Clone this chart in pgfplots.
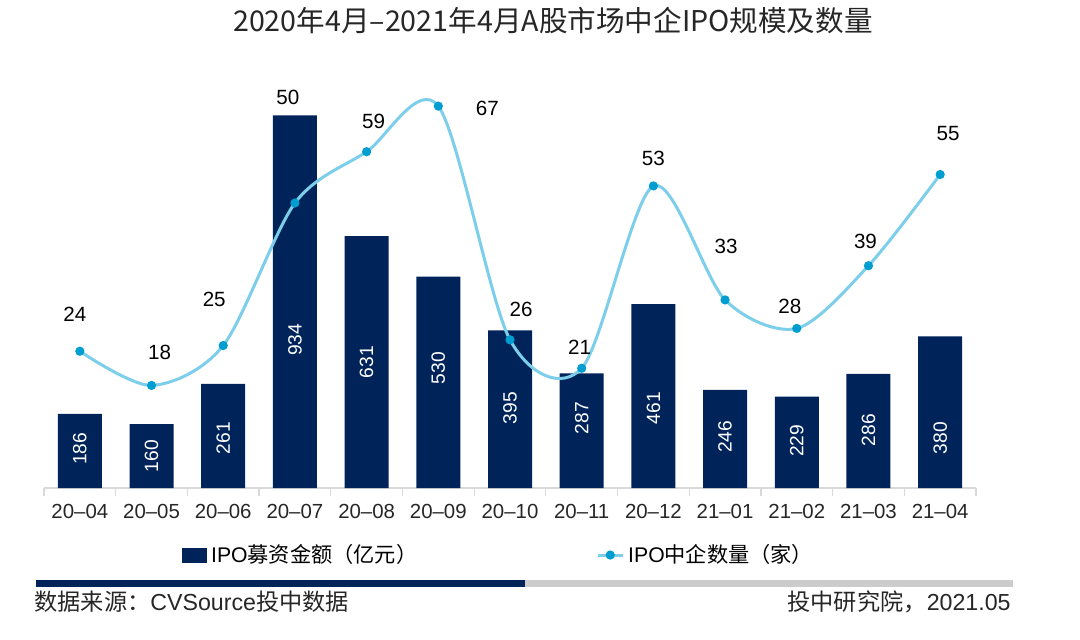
\documentclass[border=0pt]{standalone}
\usepackage{fontspec}
\setmainfont{Liberation Sans}
\newfontfamily\cjk{Noto Sans CJK SC}
\usepackage{pgfplots}
\usepackage{pgfplotstable}
\pgfplotsset{compat=1.18}

\definecolor{navy}{RGB}{0,36,90}
\definecolor{lineblue}{RGB}{125,206,234}
\definecolor{dotblue}{RGB}{0,158,208}
\definecolor{axisgrey}{RGB}{217,217,217}
\definecolor{bargrey}{RGB}{204,204,204}
\definecolor{txt}{RGB}{38,38,38}

% IPO amount (100m yuan); ly = height where the value is written
\pgfplotstableread{
x  amt ly
0  186 98
1  160 80
2  261 125
3  934 371
4  631 315
5  530 300
6  395 200
7  287 175
8  461 200
9  246 128
10 229 118
11 286 145
12 380 125
}\amount

% number of firms; dx/dy = label offset in pt
\pgfplotstableread{
x  n  dx   dy
0  24 -2.5 18.5
1  18 4    16.5
2  25 -4.5 23
3  50 -3.5 53
4  59 3.5  15
5  67 24.5 -1
6  26 5.5  15
7  21 -1   10.5
8  53 0    14
9  33 0.5  27
10 28 -3.5 11
11 39 -1.5 12
12 55 4    20.5
}\firms

\begin{document}
\begin{tikzpicture}[font=\fontsize{10}{12}\selectfont]
\path[use as bounding box] (-22pt,-75.5pt) rectangle (518pt,244pt);

\begin{axis}[
    at={(0,0)}, anchor=south west,
    scale only axis, width=466pt, height=199.5pt,
    xmin=-0.5, xmax=12.5, ymin=0, ymax=1000,
    axis x line*=bottom, axis y line=none,
    x axis line style={draw=axisgrey, line width=0.8pt, -},
    xtick={0,...,12},
    xticklabels={20–04,20–05,20–06,20–07,20–08,20–09,20–10,20–11,20–12,21–01,21–02,21–03,21–04},
    major tick length=0pt,
    minor xtick={-0.5,0.5,...,12.5},
    minor tick length=4pt, tick align=outside,
    minor tick style={draw=axisgrey, line width=0.6pt},
    xticklabel style={text=txt, anchor=center, yshift=-11.75pt,
        font=\fontsize{10.2}{12}\selectfont},
    ytick=\empty,
    clip=false,
]
\addplot[ybar, bar width=22pt, fill=navy, draw=none] table[x=x, y=amt] {\amount};
\addplot[draw=none, mark=none, nodes near coords, point meta=explicit symbolic,
    nodes near coords style={rotate=90, anchor=center, text=white,
        font=\fontsize{9.6}{11}\selectfont}]
    table[x=x, y=ly, meta=amt] {\amount};
\end{axis}

\begin{axis}[
    at={(0,0)}, anchor=south west,
    scale only axis, width=466pt, height=199.5pt,
    xmin=-0.5, xmax=12.5, ymin=0, ymax=70,
    hide axis, clip=false,
    legend columns=2,
    legend style={at={(0.489,-0.168)}, anchor=center, draw=none, fill=none,
        font=\fontsize{10.6}{13}\selectfont,
        /tikz/column 2/.style={column sep=87.5pt}},
]
\addlegendimage{legend image code/.code={\fill[navy] (0pt,-3.5pt) rectangle (12pt,3.5pt);}}
\addlegendentry{IPO{\cjk 募资金额（亿元）}}
\addplot[smooth, color=lineblue, line width=1.5pt,
    mark=*, mark size=1.5pt, mark options={fill=dotblue, draw=dotblue},
    legend image code/.code={
        \draw[lineblue, line width=1.5pt] (0pt,0pt) -- (12.5pt,0pt);
        \fill[dotblue] (6.25pt,0pt) circle (1.5pt);},
    nodes near coords, point meta=explicit symbolic,
    visualization depends on={\thisrow{dx}\as\dx},
    visualization depends on={\thisrow{dy}\as\dy},
    nodes near coords style={anchor=center, xshift=\dx*1pt, yshift=\dy*1pt,
        text=black, font=\fontsize{10.3}{12}\selectfont}]
    table[x=x, y=n, meta=n] {\firms};
\addlegendentry{IPO{\cjk 中企数量（家）}}
\end{axis}

\node[font=\cjk\fontsize{14.3}{16}\selectfont, text=txt] at (254.5pt,233.5pt)
    {2020年4月–2021年4月A股市场中企IPO规模及数量};

\fill[navy] (-4pt,-46pt) rectangle (240.5pt,-49.5pt);
\fill[bargrey] (240.5pt,-46pt) rectangle (484.5pt,-49.5pt);

\node[anchor=west, inner sep=0pt, text=txt, font=\fontsize{11.6}{14}\selectfont]
    at (-5pt,-57pt) {{\cjk 数据来源：}CVSource{\cjk 投中数据}};
\node[anchor=east, inner sep=0pt, text=txt, font=\fontsize{11.6}{14}\selectfont]
    at (483.5pt,-57pt) {{\cjk 投中研究院，}2021.05};
\end{tikzpicture}
\end{document}
